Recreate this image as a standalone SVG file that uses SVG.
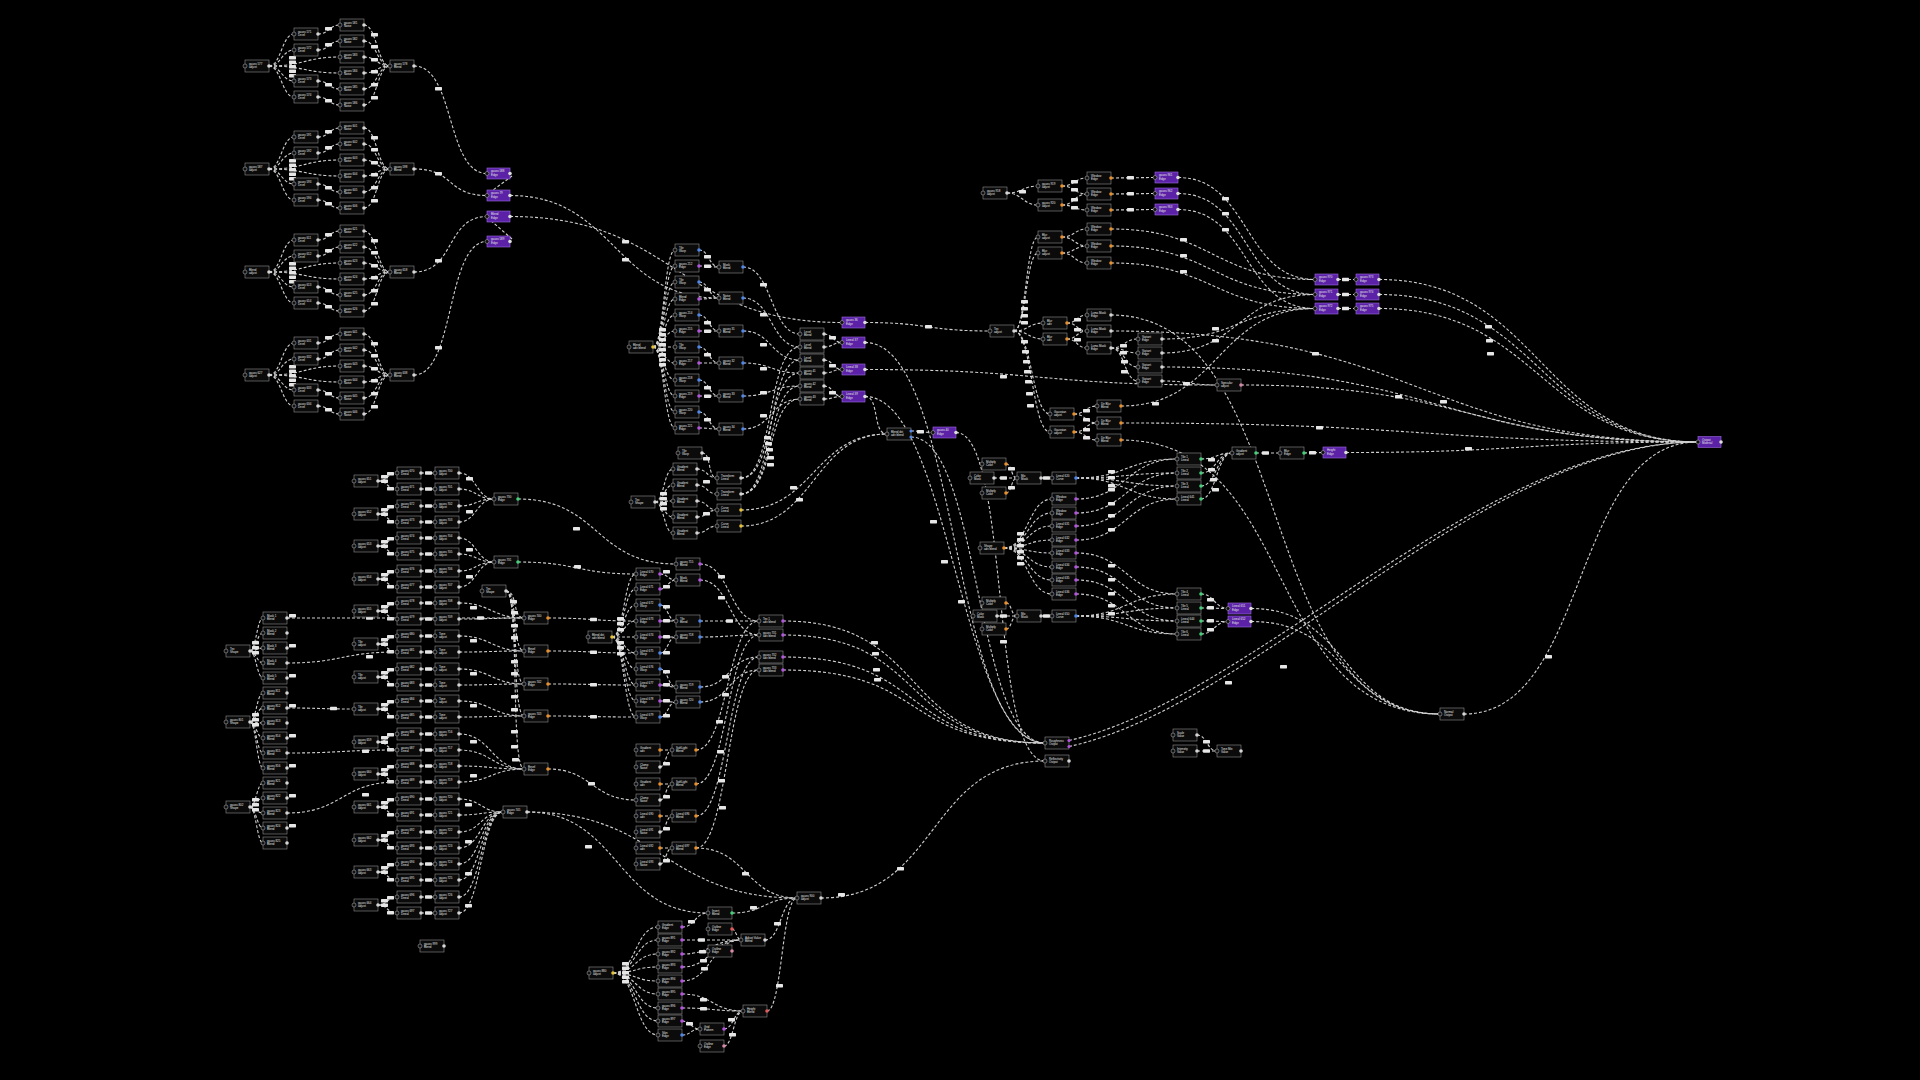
<svg xmlns="http://www.w3.org/2000/svg" width="1920" height="1080" viewBox="0 0 1920 1080">
<defs>
<style>
.c{fill:none;stroke:#cfcfcf;stroke-width:1.1;stroke-dasharray:3 2}
text{font-family:"Liberation Sans",Arial,sans-serif;font-size:2.9px;fill:#e6e6e6}
.r{fill:#0b0b0b;stroke:#8e8e8e;stroke-width:.6}
.rp{fill:#5b21a6;stroke:#9c6ce2;stroke-width:.6}
.pi{fill:#111;stroke:#bbb;stroke-width:.5;stroke-dasharray:none}
.pl{fill:#e6e6e6;stroke:none}
</style>
<g id="b"><rect class="r" width="24" height="12"/><circle class="pi" cx="0" cy="6" r="2"/></g>
<g id="nw"><use href="#b"/><circle cx="24" cy="6" r="1.8" fill="#d6d6d6"/></g>
<g id="nb"><use href="#b"/><circle cx="24" cy="6" r="1.8" fill="#4f86e8"/></g>
<g id="np"><use href="#b"/><circle cx="24" cy="6" r="1.8" fill="#b455e0"/></g>
<g id="no"><use href="#b"/><circle cx="24" cy="6" r="1.8" fill="#e8902c"/></g>
<g id="ng"><use href="#b"/><circle cx="24" cy="6" r="1.8" fill="#45d07a"/></g>
<g id="ny"><use href="#b"/><circle cx="24" cy="6" r="1.8" fill="#e6c234"/></g>
<g id="nr"><use href="#b"/><circle cx="24" cy="6" r="1.8" fill="#e05858"/></g>
<g id="nk"><use href="#b"/><circle cx="24" cy="6" r="1.8" fill="#d98aa8"/></g>
<g id="n2b"><use href="#b"/><circle cx="24" cy="3" r="1.6" fill="#4f86e8"/><circle cx="24" cy="9" r="1.6" fill="#4f86e8"/></g>
<g id="n2p"><use href="#b"/><circle cx="24" cy="3.5" r="1.6" fill="#b455e0"/><circle cx="24" cy="9.5" r="1.6" fill="#b455e0"/></g>
<g id="pp"><rect class="rp" width="23" height="11"/><circle class="pi" cx="0" cy="5.5" r="2"/><circle cx="23" cy="5.5" r="1.8" fill="#ddd"/></g>
<rect id="pl" class="pl" width="7" height="3.4" rx=".6"/>
<g id="ac">
<path d="M269 66C281 66 282 34 294 34"/><path d="M269 66C281 66 282 50 294 50"/><path d="M269 66C281 66 282 81 294 81"/><path d="M269 66C281 66 282 97 294 97"/>
<path d="M269 66C305 66 305 57 340 57"/><path d="M269 66C305 66 305 73 340 73"/>
<path d="M318 34C329 34 329 25 340 25"/><path d="M318 50C329 50 329 41 340 41"/><path d="M318 81C329 81 329 89 340 89"/><path d="M318 97C329 97 329 105 340 105"/>
<path d="M364 25C377 25 377 66 390 66"/><path d="M364 41C377 41 377 66 390 66"/><path d="M364 57C377 57 377 66 390 66"/><path d="M364 73C377 73 377 66 390 66"/><path d="M364 89C377 89 377 66 390 66"/><path d="M364 105C377 105 377 66 390 66"/>
<use href="#pl" x="289" y="56"/><use href="#pl" x="289" y="60.5"/><use href="#pl" x="289" y="65"/><use href="#pl" x="289" y="69.5"/><use href="#pl" x="289" y="74"/>
<use href="#pl" x="325" y="27"/><use href="#pl" x="325" y="43"/><use href="#pl" x="325" y="83"/><use href="#pl" x="325" y="99"/>
<use href="#pl" x="371" y="33"/><use href="#pl" x="371" y="45"/><use href="#pl" x="371" y="58"/><use href="#pl" x="371" y="70"/><use href="#pl" x="371" y="83"/><use href="#pl" x="371" y="96"/>
</g>
<g id="cr">
<path d="M378 481C388 481 387 473 397 473"/><path d="M378 481C388 481 387 489 397 489"/><path d="M421 473H435"/><path d="M421 489H435"/>
<use href="#pl" x="381" y="475"/><use href="#pl" x="381" y="479.5"/><use href="#pl" x="387" y="472"/><use href="#pl" x="387" y="487"/><use href="#pl" x="425" y="471.3"/><use href="#pl" x="425" y="487.3"/>
</g>
</defs>
<rect width="1920" height="1080" fill="#000"/>
<g id="connectors" class="c">
<use href="#ac"/><use href="#ac" y="103"/><use href="#ac" y="206"/><use href="#ac" y="309"/>
<path d="M414 66C455 66 446 173.5 487 173.5"/><path d="M414 169C455 169 446 195.5 487 195.5"/><path d="M414 272C455 272 446 216.5 487 216.5"/><path d="M414 375C455 375 446 241.5 487 241.5"/>
<path d="M512 176L489 193"/><path d="M512 239L489 219"/>
<use href="#pl" x="435" y="87"/><use href="#pl" x="435" y="172"/><use href="#pl" x="435" y="259"/><use href="#pl" x="435" y="346"/>
<path d="M510 195.5C615 195.5 614 298 719 298"/><path d="M510 216.5C676 216.5 676 322.5 842 322.5"/>
<use href="#pl" x="622" y="240"/><use href="#pl" x="622" y="258"/>
<path d="M653 347C664 347 664 250 675 250"/><path d="M653 347C664 347 664 266 675 266"/><path d="M653 347C664 347 664 282 675 282"/><path d="M653 347C664 347 664 299 675 299"/><path d="M653 347C664 347 664 315 675 315"/><path d="M653 347C664 347 664 331 675 331"/><path d="M653 347C664 347 664 347 675 347"/><path d="M653 347C664 347 664 363 675 363"/><path d="M653 347C664 347 664 380 675 380"/><path d="M653 347C664 347 664 396 675 396"/><path d="M653 347C664 347 664 412 675 412"/><path d="M653 347C664 347 664 428 675 428"/>
<use href="#pl" x="659" y="328"/><use href="#pl" x="659" y="333"/><use href="#pl" x="659" y="338"/><use href="#pl" x="659" y="343"/><use href="#pl" x="659" y="348"/><use href="#pl" x="659" y="353"/><use href="#pl" x="659" y="358"/><use href="#pl" x="659" y="363"/>
<path d="M699 250C709 250 709 267 719 267"/><path d="M699 266C709 266 709 267 719 267"/><path d="M699 282C709 282 709 298 719 298"/><path d="M699 299C709 299 709 298 719 298"/><path d="M699 315C709 315 709 331 719 331"/><path d="M699 331C709 331 709 331 719 331"/><path d="M699 347C709 347 709 363 719 363"/><path d="M699 363C709 363 709 363 719 363"/><path d="M699 380C709 380 709 396 719 396"/><path d="M699 396C709 396 709 396 719 396"/><path d="M699 412C709 412 709 429 719 429"/><path d="M699 428C709 428 709 429 719 429"/>
<use href="#pl" x="704" y="255"/><use href="#pl" x="704" y="264.5"/><use href="#pl" x="704" y="288"/><use href="#pl" x="704" y="321"/><use href="#pl" x="704" y="329.5"/><use href="#pl" x="704" y="353"/><use href="#pl" x="704" y="386"/><use href="#pl" x="704" y="394.5"/><use href="#pl" x="704" y="418"/>
<path d="M743 267C772 267 771 334 800 334"/><path d="M743 298C772 298 771 347 800 347"/><path d="M743 331C772 331 771 360 800 360"/><path d="M743 363C772 363 771 373 800 373"/><path d="M743 396C772 396 771 386 800 386"/><path d="M743 429C772 429 771 399 800 399"/>
<use href="#pl" x="760" y="283"/><use href="#pl" x="760" y="313"/><use href="#pl" x="760" y="343"/><use href="#pl" x="760" y="367"/><use href="#pl" x="760" y="391"/><use href="#pl" x="760" y="414"/>
<path d="M741 478C775 478 766 347 800 347"/><path d="M741 478C775 478 766 373 800 373"/><path d="M741 494C775 494 766 360 800 360"/><path d="M741 494C775 494 766 386 800 386"/><path d="M741 494C775 494 766 399 800 399"/>
<use href="#pl" x="764" y="436"/><use href="#pl" x="765" y="442"/><use href="#pl" x="766" y="448"/><use href="#pl" x="767" y="456"/><use href="#pl" x="767" y="463"/>
<path d="M824 334C833 334 833 342.5 842 342.5"/><path d="M824 347C833 347 833 342.5 842 342.5"/><path d="M824 360C833 360 833 369.5 842 369.5"/><path d="M824 373C833 373 833 369.5 842 369.5"/><path d="M824 386C833 386 833 396.5 842 396.5"/><path d="M824 399C833 399 833 396.5 842 396.5"/>
<use href="#pl" x="829" y="336"/><use href="#pl" x="829" y="364"/><use href="#pl" x="829" y="391"/>
<path d="M865 396.5C880 396.5 872 434 887 434"/><path d="M741 510C814 510 814 434 887 434"/><path d="M741 526C814 526 814 434 887 434"/><path d="M911 431C922 431 922 432.5 933 432.5"/>
<use href="#pl" x="790" y="486"/><use href="#pl" x="796" y="498"/><use href="#pl" x="917" y="430"/>
<path d="M655 502C664 502 664 469 673 469"/><path d="M655 502C664 502 664 485 673 485"/><path d="M655 502C664 502 664 501 673 501"/><path d="M655 502C664 502 664 517 673 517"/><path d="M655 502C664 502 664 533 673 533"/>
<use href="#pl" x="660" y="492"/><use href="#pl" x="660" y="497"/><use href="#pl" x="660" y="502"/><use href="#pl" x="660" y="507"/>
<path d="M697 469C707 469 707 478 717 478"/><path d="M697 485C707 485 707 494 717 494"/><path d="M697 501C707 501 707 510 717 510"/><path d="M697 517C707 517 707 510 717 510"/><path d="M697 533C707 533 707 526 717 526"/><path d="M702 453C712 453 707 478 717 478"/>
<use href="#pl" x="703" y="457"/><use href="#pl" x="703" y="480"/><use href="#pl" x="703" y="512"/>
<path d="M865 322.5C928 322.5 927 331 990 331"/><path d="M865 342.5C960 342.5 950 743 1045 743"/><path d="M865 369.5C1040 369.5 1040 385 1217 385"/><path d="M865 396.5C950 396.5 960 743 1045 743"/><path d="M911 437C980 437 975 743 1045 743"/><path d="M956 432.5C1010 432.5 990 761 1045 761"/>
<use href="#pl" x="925" y="325"/><use href="#pl" x="1000" y="375"/><use href="#pl" x="930" y="520"/><use href="#pl" x="941" y="560"/><use href="#pl" x="958" y="600"/><use href="#pl" x="1000" y="640"/>
<use href="#cr"/><use href="#cr" y="33"/><use href="#cr" y="65"/><use href="#cr" y="98"/><use href="#cr" y="130"/><use href="#cr" y="163"/><use href="#cr" y="196"/><use href="#cr" y="228"/><use href="#cr" y="261"/><use href="#cr" y="293"/><use href="#cr" y="326"/><use href="#cr" y="359"/><use href="#cr" y="391"/><use href="#cr" y="424"/>
<path d="M459 473C476 473 477 499 494 499"/><path d="M459 489C476 489 477 499 494 499"/><path d="M459 506C476 506 477 499 494 499"/><path d="M459 522C476 522 477 499 494 499"/>
<path d="M459 538C476 538 477 562 494 562"/><path d="M459 554C476 554 477 562 494 562"/><path d="M459 571C476 571 477 562 494 562"/><path d="M459 587C476 587 477 562 494 562"/>
<path d="M459 603C491 603 492 618 524 618"/><path d="M459 619C491 619 492 618 524 618"/><path d="M459 636C491 636 492 651 524 651"/><path d="M459 652C491 652 492 651 524 651"/><path d="M459 669C491 669 492 684 524 684"/><path d="M459 685C491 685 492 684 524 684"/><path d="M459 701C491 701 492 716 524 716"/><path d="M459 717C491 717 492 716 524 716"/>
<path d="M459 734C491 734 492 769 524 769"/><path d="M459 750C491 750 492 769 524 769"/><path d="M459 766C491 766 492 769 524 769"/><path d="M459 782C491 782 492 769 524 769"/>
<path d="M459 799C481 799 481 812 503 812"/><path d="M459 815C481 815 481 812 503 812"/><path d="M459 832C481 832 481 812 503 812"/><path d="M459 848C481 848 481 812 503 812"/><path d="M459 864C481 864 481 812 503 812"/><path d="M459 880C481 880 481 812 503 812"/><path d="M459 897C481 897 481 812 503 812"/><path d="M459 913C481 913 481 812 503 812"/>
<use href="#pl" x="466" y="477"/><use href="#pl" x="466" y="510"/><use href="#pl" x="466" y="548"/><use href="#pl" x="466" y="575"/><use href="#pl" x="470" y="606"/><use href="#pl" x="470" y="639"/><use href="#pl" x="470" y="672"/><use href="#pl" x="470" y="704"/><use href="#pl" x="470" y="740"/><use href="#pl" x="470" y="774"/><use href="#pl" x="465" y="803"/><use href="#pl" x="465" y="840"/><use href="#pl" x="465" y="872"/><use href="#pl" x="465" y="904"/>
<path d="M506 591C518 591 512 618 524 618"/><path d="M506 591C518 591 512 651 524 651"/><path d="M506 591C518 591 512 684 524 684"/><path d="M506 591C518 591 512 716 524 716"/><path d="M506 591C520 591 510 769 524 769"/>
<use href="#pl" x="510" y="600"/><use href="#pl" x="511" y="611"/><use href="#pl" x="511" y="624"/><use href="#pl" x="511" y="636"/><use href="#pl" x="511" y="660"/><use href="#pl" x="511" y="672"/><use href="#pl" x="511" y="695"/><use href="#pl" x="511" y="708"/><use href="#pl" x="511" y="730"/><use href="#pl" x="511" y="745"/><use href="#pl" x="512" y="758"/>
<path d="M250 651C256 651 257 618 263 618"/><path d="M250 651C256 651 257 633 263 633"/><path d="M250 651C256 651 257 648 263 648"/><path d="M250 651C256 651 257 663 263 663"/><path d="M250 651C256 651 257 678 263 678"/>
<path d="M250 722C256 722 257 693 263 693"/><path d="M250 722C256 722 257 708 263 708"/><path d="M250 722C256 722 257 723 263 723"/><path d="M250 722C256 722 257 738 263 738"/><path d="M250 722C256 722 257 753 263 753"/><path d="M250 722C256 722 257 768 263 768"/>
<path d="M250 807C256 807 257 783 263 783"/><path d="M250 807C256 807 257 798 263 798"/><path d="M250 807C256 807 257 813 263 813"/><path d="M250 807C256 807 257 828 263 828"/><path d="M250 807C256 807 257 843 263 843"/>
<use href="#pl" x="252" y="641"/><use href="#pl" x="252" y="646"/><use href="#pl" x="252" y="651"/><use href="#pl" x="252" y="713"/><use href="#pl" x="252" y="718"/><use href="#pl" x="252" y="723"/><use href="#pl" x="252" y="798"/><use href="#pl" x="252" y="803"/><use href="#pl" x="252" y="808"/>
<path d="M287 618H524"/><path d="M287 663C342 663 342 652 397 652"/><path d="M287 708C320 708 321 709 354 709"/><path d="M287 753C342 753 342 750 397 750"/><path d="M287 813C342 813 342 782 397 782"/>
<use href="#pl" x="366" y="616.3"/><use href="#pl" x="477" y="616.3"/><use href="#pl" x="366" y="655"/><use href="#pl" x="330" y="706.8"/><use href="#pl" x="362" y="749.5"/><use href="#pl" x="362" y="793"/>
<use href="#pl" x="289" y="614"/><use href="#pl" x="289" y="644"/><use href="#pl" x="289" y="674"/><use href="#pl" x="289" y="704"/><use href="#pl" x="289" y="734"/><use href="#pl" x="289" y="764"/><use href="#pl" x="289" y="794"/><use href="#pl" x="289" y="824"/>
<path d="M518 499C600 499 594 564 676 564"/><path d="M518 562C577 562 577 574 636 574"/><path d="M548 618C592 618 592 621 636 621"/><path d="M548 651C592 651 592 653 636 653"/><path d="M548 684C592 684 592 685 636 685"/><path d="M548 716C592 716 592 717 636 717"/><path d="M548 769C592 769 592 800 636 800"/>
<use href="#pl" x="573" y="527"/><use href="#pl" x="574" y="565"/><use href="#pl" x="590" y="617.8"/><use href="#pl" x="590" y="650.5"/><use href="#pl" x="590" y="683"/><use href="#pl" x="590" y="715"/><use href="#pl" x="588" y="782"/>
<path d="M612 637C624 637 624 574 636 574"/><path d="M612 637C624 637 624 589 636 589"/><path d="M612 637C624 637 624 605 636 605"/><path d="M612 637C624 637 624 621 636 621"/><path d="M612 637C624 637 624 637 636 637"/><path d="M612 637C624 637 624 653 636 653"/><path d="M612 637C624 637 624 669 636 669"/><path d="M612 637C624 637 624 685 636 685"/><path d="M612 637C624 637 624 701 636 701"/><path d="M612 637C624 637 624 717 636 717"/>
<use href="#pl" x="617" y="617"/><use href="#pl" x="617" y="622"/><use href="#pl" x="617" y="628"/><use href="#pl" x="617" y="641"/><use href="#pl" x="617" y="646"/><use href="#pl" x="617" y="652"/>
<path d="M660 574C668 574 668 580 676 580"/><path d="M660 589C668 589 668 580 676 580"/><path d="M660 605C668 605 668 621 676 621"/><path d="M660 621H676"/><path d="M660 637H676"/><path d="M660 653C668 653 668 637 676 637"/><path d="M660 669C668 669 668 687 676 687"/><path d="M660 685C668 685 668 687 676 687"/><path d="M660 701C668 701 668 702 676 702"/><path d="M660 717C668 717 668 702 676 702"/>
<use href="#pl" x="663" y="570"/><use href="#pl" x="663" y="585"/><use href="#pl" x="663" y="605"/><use href="#pl" x="663" y="619"/><use href="#pl" x="663" y="635"/><use href="#pl" x="663" y="651"/><use href="#pl" x="663" y="670"/><use href="#pl" x="663" y="683"/><use href="#pl" x="663" y="699"/><use href="#pl" x="663" y="714"/>
<path d="M700 564C730 564 729 621 759 621"/><path d="M700 580C730 580 729 635 759 635"/><path d="M700 621H759"/><path d="M700 637C730 637 729 635 759 635"/><path d="M700 687C730 687 729 657 759 657"/><path d="M700 702C730 702 729 670 759 670"/>
<path d="M696 750C728 750 727 621 759 621"/><path d="M696 784C728 784 727 635 759 635"/><path d="M696 816C728 816 727 657 759 657"/><path d="M696 848C728 848 727 670 759 670"/>
<use href="#pl" x="718" y="575"/><use href="#pl" x="718" y="596"/><use href="#pl" x="726" y="619.3"/><use href="#pl" x="722" y="675"/><use href="#pl" x="722" y="693"/><use href="#pl" x="716" y="720"/><use href="#pl" x="717" y="750"/><use href="#pl" x="718" y="779"/><use href="#pl" x="719" y="806"/>
<path d="M660 750H672"/><path d="M660 767C666 767 666 750 672 750"/><path d="M660 784H672"/><path d="M660 800C666 800 666 784 672 784"/><path d="M660 816H672"/><path d="M660 832C666 832 666 816 672 816"/><path d="M660 848H672"/><path d="M660 864C666 864 666 848 672 848"/>
<use href="#pl" x="663" y="762"/><use href="#pl" x="663" y="795"/><use href="#pl" x="663" y="827"/><use href="#pl" x="663" y="859"/>
<path d="M783 621C930 621 898 743 1045 743"/><path d="M783 635C930 635 898 743 1045 743"/><path d="M783 657C930 657 898 743 1045 743"/><path d="M783 670C930 670 898 743 1045 743"/>
<use href="#pl" x="871" y="641"/><use href="#pl" x="872" y="652"/><use href="#pl" x="873" y="668"/><use href="#pl" x="874" y="678"/>
<path d="M613 973C636 973 635 927 658 927"/><path d="M613 973C636 973 635 940 658 940"/><path d="M613 973C636 973 635 954 658 954"/><path d="M613 973C636 973 635 967 658 967"/><path d="M613 973C636 973 635 981 658 981"/><path d="M613 973C636 973 635 994 658 994"/><path d="M613 973C636 973 635 1008 658 1008"/><path d="M613 973C636 973 635 1021 658 1021"/><path d="M613 973C636 973 635 1035 658 1035"/>
<use href="#pl" x="622" y="962"/><use href="#pl" x="622" y="966.5"/><use href="#pl" x="622" y="971"/><use href="#pl" x="622" y="975.5"/><use href="#pl" x="622" y="980"/>
<path d="M682 927C695 927 695 913 708 913"/><path d="M682 940H741"/><path d="M682 954C711 954 712 940 741 940"/><path d="M682 967C711 967 712 940 741 940"/><path d="M682 981C711 981 712 940 741 940"/><path d="M682 994C712 994 713 1011 743 1011"/><path d="M682 1008C712 1008 713 1011 743 1011"/><path d="M682 1021C691 1021 691 1029 700 1029"/><path d="M682 1035C691 1035 691 1029 700 1029"/>
<path d="M724 1029C733 1029 734 1011 743 1011"/><path d="M724 1046C733 1046 734 1011 743 1011"/><path d="M732 929C736 929 737 940 741 940"/>
<use href="#pl" x="688" y="920"/><use href="#pl" x="698" y="938.3"/><use href="#pl" x="699" y="950"/><use href="#pl" x="700" y="959"/><use href="#pl" x="701" y="967"/><use href="#pl" x="700" y="998"/><use href="#pl" x="700" y="1007"/><use href="#pl" x="686" y="1022"/><use href="#pl" x="728" y="1018"/><use href="#pl" x="729" y="1033"/>
<path d="M732 913C765 913 764 898 797 898"/><path d="M765 940C781 940 781 898 797 898"/><path d="M767 1011C782 1011 782 898 797 898"/>
<use href="#pl" x="750" y="906"/><use href="#pl" x="774" y="922"/><use href="#pl" x="776" y="984"/>
<path d="M527 812C620 812 615 913 708 913"/><path d="M527 812C660 812 664 898 797 898"/><path d="M696 848C747 848 746 898 797 898"/><path d="M821 898C940 898 926 761 1045 761"/>
<use href="#pl" x="585" y="845"/><use href="#pl" x="640" y="846"/><use href="#pl" x="742" y="872"/><use href="#pl" x="897" y="867"/><use href="#pl" x="838" y="893"/>
<path d="M1007 193C1022 193 1023 186 1038 186"/><path d="M1007 193C1022 193 1023 205 1038 205"/>
<path d="M1062 186C1074 186 1075 178 1087 178"/><path d="M1062 186C1074 186 1075 194 1087 194"/><path d="M1062 205C1074 205 1075 194 1087 194"/><path d="M1062 205C1074 205 1075 210 1087 210"/>
<path d="M1111 178L1155 177.5"/><path d="M1111 194L1155 193.5"/><path d="M1111 210L1155 209.5"/>
<path d="M1178 177.5C1250 177.5 1243 279.5 1315 279.5"/><path d="M1178 193.5C1250 193.5 1243 294.5 1315 294.5"/><path d="M1178 209.5C1250 209.5 1243 308.5 1315 308.5"/>
<path d="M1014 331C1026 331 1026 237 1038 237"/><path d="M1014 331C1026 331 1026 253 1038 253"/>
<path d="M1062 237C1074 237 1075 229 1087 229"/><path d="M1062 237C1074 237 1075 246 1087 246"/><path d="M1062 253C1074 253 1075 246 1087 246"/><path d="M1062 253C1074 253 1075 263 1087 263"/>
<path d="M1111 229C1213 229 1213 279.5 1315 279.5"/><path d="M1111 246C1213 246 1213 294.5 1315 294.5"/><path d="M1111 263C1213 263 1213 308.5 1315 308.5"/>
<path d="M1338 279.5H1356"/><path d="M1338 294.5H1356"/><path d="M1338 308.5H1356"/>
<path d="M1014 331C1028 331 1029 323 1043 323"/><path d="M1014 331C1028 331 1029 339 1043 339"/><path d="M1014 331C1032 331 1032 414 1050 414"/><path d="M1014 331C1032 331 1032 432 1050 432"/>
<path d="M1067 323C1077 323 1077 315 1087 315"/><path d="M1067 323C1077 323 1077 331 1087 331"/><path d="M1067 339C1077 339 1077 331 1087 331"/><path d="M1067 339C1077 339 1077 348 1087 348"/>
<path d="M1111 348C1125 348 1124 339 1138 339"/><path d="M1111 348C1125 348 1124 353 1138 353"/><path d="M1111 348C1125 348 1124 367 1138 367"/><path d="M1111 348C1125 348 1124 381 1138 381"/>
<path d="M1162 339C1240 339 1237 308.5 1315 308.5"/><path d="M1162 353C1240 353 1237 294.5 1315 294.5"/><path d="M1162 381C1190 381 1189 385 1217 385"/>
<path d="M1074 414C1086 414 1085 406 1097 406"/><path d="M1074 414C1086 414 1085 423 1097 423"/><path d="M1074 432C1086 432 1085 423 1097 423"/><path d="M1074 432C1086 432 1085 440 1097 440"/>
<path d="M1121 406C1220 406 1216 308.5 1315 308.5"/>
<path d="M1256 453H1280"/><path d="M1304 453L1323 452.5"/>
<use href="#pl" x="1019" y="190"/><use href="#pl" x="1071" y="180"/><use href="#pl" x="1071" y="188"/><use href="#pl" x="1071" y="198"/><use href="#pl" x="1071" y="206"/><use href="#pl" x="1127" y="176"/><use href="#pl" x="1127" y="192"/><use href="#pl" x="1127" y="208"/>
<use href="#pl" x="1222" y="197"/><use href="#pl" x="1222" y="212"/><use href="#pl" x="1222" y="228"/><use href="#pl" x="1180" y="238"/><use href="#pl" x="1180" y="254"/><use href="#pl" x="1180" y="270"/><use href="#pl" x="1342" y="277.8"/><use href="#pl" x="1342" y="292.8"/><use href="#pl" x="1342" y="306.8"/>
<use href="#pl" x="1021" y="300"/><use href="#pl" x="1021" y="307"/><use href="#pl" x="1021" y="314"/><use href="#pl" x="1021" y="321"/><use href="#pl" x="1021" y="340"/><use href="#pl" x="1022" y="350"/><use href="#pl" x="1023" y="360"/><use href="#pl" x="1024" y="370"/><use href="#pl" x="1025" y="380"/><use href="#pl" x="1026" y="392"/><use href="#pl" x="1027" y="404"/>
<use href="#pl" x="1074" y="318"/><use href="#pl" x="1074" y="328"/><use href="#pl" x="1074" y="338"/><use href="#pl" x="1120" y="344"/><use href="#pl" x="1120" y="351"/><use href="#pl" x="1121" y="360"/><use href="#pl" x="1121" y="370"/>
<use href="#pl" x="1212" y="327"/><use href="#pl" x="1212" y="339"/><use href="#pl" x="1183" y="382"/><use href="#pl" x="1083" y="409"/><use href="#pl" x="1083" y="418"/><use href="#pl" x="1083" y="428"/><use href="#pl" x="1083" y="436"/><use href="#pl" x="1152" y="402"/><use href="#pl" x="1262" y="451.3"/><use href="#pl" x="1309" y="451"/>
<path d="M1379 279.5C1540 279.5 1540 442 1698 442"/><path d="M1379 294.5C1540 294.5 1540 442 1698 442"/><path d="M1379 308.5C1540 308.5 1540 442 1698 442"/>
<path d="M1111 331C1420 331 1420 442 1698 442"/><path d="M1162 367C1440 367 1440 442 1698 442"/><path d="M1241 385C1470 385 1470 442 1698 442"/><path d="M1121 423C1420 423 1420 442 1698 442"/><path d="M1346 452.5C1520 452.5 1520 442 1698 442"/>
<path d="M1464 714C1590 714 1570 442 1698 442"/><path d="M1069 740.5C1250 700 1480 442 1698 442"/><path d="M1069 746.5C1255 706 1485 442 1698 442"/>
<use href="#pl" x="1485" y="325"/><use href="#pl" x="1486" y="339"/><use href="#pl" x="1487" y="352"/><use href="#pl" x="1312" y="352"/><use href="#pl" x="1395" y="395"/><use href="#pl" x="1440" y="400"/><use href="#pl" x="1316" y="426"/><use href="#pl" x="1465" y="447"/><use href="#pl" x="1545" y="655"/><use href="#pl" x="1280" y="665"/><use href="#pl" x="1225" y="681"/>
<path d="M1006 464C1012 464 1011 478 1017 478"/><path d="M994 478H1017"/><path d="M1006 493C1012 493 1011 478 1017 478"/><path d="M1041 478H1052"/>
<path d="M1076 478C1126 478 1127 459 1177 459"/><path d="M1076 478C1126 478 1127 473 1177 473"/><path d="M1076 478C1126 478 1127 486 1177 486"/><path d="M1076 478C1126 478 1127 499 1177 499"/>
<path d="M1004 548C1028 548 1028 499 1052 499"/><path d="M1004 548C1028 548 1028 513 1052 513"/><path d="M1004 548C1028 548 1028 526 1052 526"/><path d="M1004 548C1028 548 1028 540 1052 540"/><path d="M1004 548C1028 548 1028 553 1052 553"/><path d="M1004 548C1028 548 1028 567 1052 567"/><path d="M1004 548C1028 548 1028 580 1052 580"/><path d="M1004 548C1028 548 1028 594 1052 594"/>
<path d="M1076 499C1126 499 1127 459 1177 459"/><path d="M1076 513C1126 513 1127 473 1177 473"/><path d="M1076 526C1126 526 1127 486 1177 486"/><path d="M1076 540C1126 540 1127 499 1177 499"/><path d="M1076 553C1126 553 1127 594 1177 594"/><path d="M1076 567C1126 567 1127 608 1177 608"/><path d="M1076 580C1126 580 1127 621 1177 621"/><path d="M1076 594C1126 594 1127 634 1177 634"/>
<path d="M1006 603C1012 603 1011 616 1017 616"/><path d="M997 616H1017"/><path d="M1006 629C1012 629 1011 616 1017 616"/><path d="M1041 616H1052"/>
<path d="M1076 616C1126 616 1127 594 1177 594"/><path d="M1076 616C1126 616 1127 608 1177 608"/><path d="M1076 616C1126 616 1127 621 1177 621"/><path d="M1076 616C1126 616 1127 634 1177 634"/>
<path d="M1201 459C1216 459 1217 453 1232 453"/><path d="M1201 473C1216 473 1217 453 1232 453"/><path d="M1201 486C1216 486 1217 453 1232 453"/><path d="M1201 499C1216 499 1217 453 1232 453"/>
<path d="M1201 594C1214 594 1215 608.5 1228 608.5"/><path d="M1201 608C1214 608 1215 608.5 1228 608.5"/><path d="M1201 621C1214 621 1215 621.5 1228 621.5"/><path d="M1201 634C1214 634 1215 621.5 1228 621.5"/>
<path d="M1251 608.5C1350 608.5 1340 714 1440 714"/><path d="M1251 621.5C1350 621.5 1340 714 1440 714"/><path d="M1111 315C1300 315 1250 714 1440 714"/><path d="M1121 440C1300 440 1260 714 1440 714"/>
<path d="M1197 735C1207 735 1207 751 1217 751"/><path d="M1197 751H1217"/>
<use href="#pl" x="1008" y="467"/><use href="#pl" x="1000" y="476.3"/><use href="#pl" x="1008" y="486"/><use href="#pl" x="1043" y="476.3"/><use href="#pl" x="1108" y="470"/><use href="#pl" x="1108" y="476"/><use href="#pl" x="1108" y="484"/>
<use href="#pl" x="1017" y="532"/><use href="#pl" x="1017" y="538"/><use href="#pl" x="1017" y="544"/><use href="#pl" x="1017" y="550"/><use href="#pl" x="1017" y="556"/><use href="#pl" x="1017" y="562"/>
<use href="#pl" x="1108" y="488"/><use href="#pl" x="1108" y="502"/><use href="#pl" x="1108" y="514"/><use href="#pl" x="1108" y="528"/><use href="#pl" x="1108" y="564"/><use href="#pl" x="1108" y="578"/><use href="#pl" x="1108" y="592"/><use href="#pl" x="1108" y="604"/><use href="#pl" x="1108" y="612"/>
<use href="#pl" x="1000" y="614.3"/><use href="#pl" x="1043" y="614.3"/><use href="#pl" x="1208" y="458"/><use href="#pl" x="1208" y="468"/><use href="#pl" x="1210" y="478"/><use href="#pl" x="1212" y="488"/><use href="#pl" x="1207" y="598"/><use href="#pl" x="1207" y="606"/><use href="#pl" x="1207" y="619"/><use href="#pl" x="1207" y="628"/><use href="#pl" x="1203" y="740"/><use href="#pl" x="1203" y="749.3"/>
</g>
<g id="nodes">
<g id="a0s" transform="translate(245,60)"><use href="#nw"/><text x="4" y="4.6">gauss 577<tspan x="4" dy="3.6">adjust</tspan></text></g>
<g id="a0c1" transform="translate(294,28)"><use href="#nw"/><text x="4" y="4.6">gauss 571<tspan x="4" dy="3.6">Level</tspan></text></g>
<g id="a0c2" transform="translate(294,44)"><use href="#nw"/><text x="4" y="4.6">gauss 572<tspan x="4" dy="3.6">Level</tspan></text></g>
<g id="a0c3" transform="translate(294,75)"><use href="#nw"/><text x="4" y="4.6">gauss 573<tspan x="4" dy="3.6">Level</tspan></text></g>
<g id="a0c4" transform="translate(294,91)"><use href="#nw"/><text x="4" y="4.6">gauss 574<tspan x="4" dy="3.6">Level</tspan></text></g>
<g id="a0n1" transform="translate(340,19)"><use href="#nw"/><text x="4" y="4.6">gauss 581<tspan x="4" dy="3.6">Noise</tspan></text></g>
<g id="a0n2" transform="translate(340,35)"><use href="#nw"/><text x="4" y="4.6">gauss 582<tspan x="4" dy="3.6">Noise</tspan></text></g>
<g id="a0n3" transform="translate(340,51)"><use href="#nw"/><text x="4" y="4.6">gauss 583<tspan x="4" dy="3.6">Noise</tspan></text></g>
<g id="a0n4" transform="translate(340,67)"><use href="#nw"/><text x="4" y="4.6">gauss 584<tspan x="4" dy="3.6">Noise</tspan></text></g>
<g id="a0n5" transform="translate(340,83)"><use href="#nw"/><text x="4" y="4.6">gauss 585<tspan x="4" dy="3.6">Noise</tspan></text></g>
<g id="a0n6" transform="translate(340,99)"><use href="#nw"/><text x="4" y="4.6">gauss 586<tspan x="4" dy="3.6">Noise</tspan></text></g>
<g id="a0m" transform="translate(390,60)"><use href="#nw"/><text x="4" y="4.6">gauss 578<tspan x="4" dy="3.6">Blend</tspan></text></g>
<g id="a1s" transform="translate(245,163)"><use href="#nw"/><text x="4" y="4.6">gauss 587<tspan x="4" dy="3.6">adjust</tspan></text></g>
<g id="a1c1" transform="translate(294,131)"><use href="#nw"/><text x="4" y="4.6">gauss 591<tspan x="4" dy="3.6">Level</tspan></text></g>
<g id="a1c2" transform="translate(294,147)"><use href="#nw"/><text x="4" y="4.6">gauss 592<tspan x="4" dy="3.6">Level</tspan></text></g>
<g id="a1c3" transform="translate(294,178)"><use href="#nw"/><text x="4" y="4.6">gauss 593<tspan x="4" dy="3.6">Level</tspan></text></g>
<g id="a1c4" transform="translate(294,194)"><use href="#nw"/><text x="4" y="4.6">gauss 594<tspan x="4" dy="3.6">Level</tspan></text></g>
<g id="a1n1" transform="translate(340,122)"><use href="#nw"/><text x="4" y="4.6">gauss 601<tspan x="4" dy="3.6">Noise</tspan></text></g>
<g id="a1n2" transform="translate(340,138)"><use href="#nw"/><text x="4" y="4.6">gauss 602<tspan x="4" dy="3.6">Noise</tspan></text></g>
<g id="a1n3" transform="translate(340,154)"><use href="#nw"/><text x="4" y="4.6">gauss 603<tspan x="4" dy="3.6">Noise</tspan></text></g>
<g id="a1n4" transform="translate(340,170)"><use href="#nw"/><text x="4" y="4.6">gauss 604<tspan x="4" dy="3.6">Noise</tspan></text></g>
<g id="a1n5" transform="translate(340,186)"><use href="#nw"/><text x="4" y="4.6">gauss 605<tspan x="4" dy="3.6">Noise</tspan></text></g>
<g id="a1n6" transform="translate(340,202)"><use href="#nw"/><text x="4" y="4.6">gauss 606<tspan x="4" dy="3.6">Noise</tspan></text></g>
<g id="a1m" transform="translate(390,163)"><use href="#nw"/><text x="4" y="4.6">gauss 598<tspan x="4" dy="3.6">Blend</tspan></text></g>
<g id="a2s" transform="translate(245,266)"><use href="#nw"/><text x="4" y="4.6">Blend<tspan x="4" dy="3.6">adjust</tspan></text></g>
<g id="a2c1" transform="translate(294,234)"><use href="#nw"/><text x="4" y="4.6">gauss 611<tspan x="4" dy="3.6">Level</tspan></text></g>
<g id="a2c2" transform="translate(294,250)"><use href="#nw"/><text x="4" y="4.6">gauss 612<tspan x="4" dy="3.6">Level</tspan></text></g>
<g id="a2c3" transform="translate(294,281)"><use href="#nw"/><text x="4" y="4.6">gauss 613<tspan x="4" dy="3.6">Level</tspan></text></g>
<g id="a2c4" transform="translate(294,297)"><use href="#nw"/><text x="4" y="4.6">gauss 614<tspan x="4" dy="3.6">Level</tspan></text></g>
<g id="a2n1" transform="translate(340,225)"><use href="#nw"/><text x="4" y="4.6">gauss 621<tspan x="4" dy="3.6">Noise</tspan></text></g>
<g id="a2n2" transform="translate(340,241)"><use href="#nw"/><text x="4" y="4.6">gauss 622<tspan x="4" dy="3.6">Noise</tspan></text></g>
<g id="a2n3" transform="translate(340,257)"><use href="#nw"/><text x="4" y="4.6">gauss 623<tspan x="4" dy="3.6">Noise</tspan></text></g>
<g id="a2n4" transform="translate(340,273)"><use href="#nw"/><text x="4" y="4.6">gauss 624<tspan x="4" dy="3.6">Noise</tspan></text></g>
<g id="a2n5" transform="translate(340,289)"><use href="#nw"/><text x="4" y="4.6">gauss 625<tspan x="4" dy="3.6">Noise</tspan></text></g>
<g id="a2n6" transform="translate(340,305)"><use href="#nw"/><text x="4" y="4.6">gauss 626<tspan x="4" dy="3.6">Noise</tspan></text></g>
<g id="a2m" transform="translate(390,266)"><use href="#nw"/><text x="4" y="4.6">gauss 618<tspan x="4" dy="3.6">Blend</tspan></text></g>
<g id="a3s" transform="translate(245,369)"><use href="#nw"/><text x="4" y="4.6">gauss 627<tspan x="4" dy="3.6">adjust</tspan></text></g>
<g id="a3c1" transform="translate(294,337)"><use href="#nw"/><text x="4" y="4.6">gauss 631<tspan x="4" dy="3.6">Level</tspan></text></g>
<g id="a3c2" transform="translate(294,353)"><use href="#nw"/><text x="4" y="4.6">gauss 632<tspan x="4" dy="3.6">Level</tspan></text></g>
<g id="a3c3" transform="translate(294,384)"><use href="#nw"/><text x="4" y="4.6">gauss 633<tspan x="4" dy="3.6">Level</tspan></text></g>
<g id="a3c4" transform="translate(294,400)"><use href="#nw"/><text x="4" y="4.6">gauss 634<tspan x="4" dy="3.6">Level</tspan></text></g>
<g id="a3n1" transform="translate(340,328)"><use href="#nw"/><text x="4" y="4.6">gauss 641<tspan x="4" dy="3.6">Noise</tspan></text></g>
<g id="a3n2" transform="translate(340,344)"><use href="#nw"/><text x="4" y="4.6">gauss 642<tspan x="4" dy="3.6">Noise</tspan></text></g>
<g id="a3n3" transform="translate(340,360)"><use href="#nw"/><text x="4" y="4.6">gauss 643<tspan x="4" dy="3.6">Noise</tspan></text></g>
<g id="a3n4" transform="translate(340,376)"><use href="#nw"/><text x="4" y="4.6">gauss 644<tspan x="4" dy="3.6">Noise</tspan></text></g>
<g id="a3n5" transform="translate(340,392)"><use href="#nw"/><text x="4" y="4.6">gauss 645<tspan x="4" dy="3.6">Noise</tspan></text></g>
<g id="a3n6" transform="translate(340,408)"><use href="#nw"/><text x="4" y="4.6">gauss 646<tspan x="4" dy="3.6">Noise</tspan></text></g>
<g id="a3m" transform="translate(390,369)"><use href="#nw"/><text x="4" y="4.6">gauss 638<tspan x="4" dy="3.6">Blend</tspan></text></g>
<g id="ap0" transform="translate(487,168)"><use href="#pp"/><text x="4" y="4.3">gauss 588<tspan x="4" dy="3.6">Edge</tspan></text></g>
<g id="ap1" transform="translate(487,190)"><use href="#pp"/><text x="4" y="4.3">gauss 79<tspan x="4" dy="3.6">Edge</tspan></text></g>
<g id="ap2" transform="translate(487,211)"><use href="#pp"/><text x="4" y="4.3">Blend<tspan x="4" dy="3.6">Edge</tspan></text></g>
<g id="ap3" transform="translate(487,236)"><use href="#pp"/><text x="4" y="4.3">gauss 589<tspan x="4" dy="3.6">Edge</tspan></text></g>
<g id="bs" transform="translate(629,341)"><use href="#ny"/><text x="4" y="4.6">Blend<tspan x="4" dy="3.6">adv blend</tspan></text></g>
<g id="b1" transform="translate(675,244)"><use href="#nb"/><text x="4" y="4.6">Tile<tspan x="4" dy="3.6">Warp</tspan></text></g>
<g id="b2" transform="translate(675,260)"><use href="#np"/><text x="4" y="4.6">gauss 212<tspan x="4" dy="3.6">Edge</tspan></text></g>
<g id="b3" transform="translate(675,276)"><use href="#nb"/><text x="4" y="4.6">Tile<tspan x="4" dy="3.6">Warp</tspan></text></g>
<g id="b4" transform="translate(675,293)"><use href="#np"/><text x="4" y="4.6">Blend<tspan x="4" dy="3.6">Edge</tspan></text></g>
<g id="b5" transform="translate(675,309)"><use href="#nb"/><text x="4" y="4.6">gauss 214<tspan x="4" dy="3.6">Warp</tspan></text></g>
<g id="b6" transform="translate(675,325)"><use href="#np"/><text x="4" y="4.6">gauss 215<tspan x="4" dy="3.6">Edge</tspan></text></g>
<g id="b7" transform="translate(675,341)"><use href="#nb"/><text x="4" y="4.6">Tile<tspan x="4" dy="3.6">Warp</tspan></text></g>
<g id="b8" transform="translate(675,357)"><use href="#np"/><text x="4" y="4.6">gauss 217<tspan x="4" dy="3.6">Edge</tspan></text></g>
<g id="b9" transform="translate(675,374)"><use href="#nb"/><text x="4" y="4.6">gauss 218<tspan x="4" dy="3.6">Warp</tspan></text></g>
<g id="b10" transform="translate(675,390)"><use href="#np"/><text x="4" y="4.6">gauss 219<tspan x="4" dy="3.6">Edge</tspan></text></g>
<g id="b11" transform="translate(675,406)"><use href="#nb"/><text x="4" y="4.6">gauss 220<tspan x="4" dy="3.6">Warp</tspan></text></g>
<g id="b12" transform="translate(675,422)"><use href="#np"/><text x="4" y="4.6">gauss 221<tspan x="4" dy="3.6">Edge</tspan></text></g>
<g id="b13" transform="translate(719,261)"><use href="#nb"/><text x="4" y="4.6">Mask<tspan x="4" dy="3.6">Blend</tspan></text></g>
<g id="b14" transform="translate(719,292)"><use href="#nb"/><text x="4" y="4.6">Noise<tspan x="4" dy="3.6">Blend</tspan></text></g>
<g id="b15" transform="translate(719,325)"><use href="#nb"/><text x="4" y="4.6">gauss 31<tspan x="4" dy="3.6">Blend</tspan></text></g>
<g id="b16" transform="translate(719,357)"><use href="#nb"/><text x="4" y="4.6">gauss 32<tspan x="4" dy="3.6">Blend</tspan></text></g>
<g id="b17" transform="translate(719,390)"><use href="#nb"/><text x="4" y="4.6">gauss 33<tspan x="4" dy="3.6">Blend</tspan></text></g>
<g id="b18" transform="translate(719,423)"><use href="#nb"/><text x="4" y="4.6">gauss 34<tspan x="4" dy="3.6">Blend</tspan></text></g>
<g id="b19" transform="translate(800,328)"><use href="#nw"/><text x="4" y="4.6">Level<tspan x="4" dy="3.6">Blend</tspan></text></g>
<g id="b20" transform="translate(800,341)"><use href="#nw"/><text x="4" y="4.6">Level<tspan x="4" dy="3.6">Blend</tspan></text></g>
<g id="b21" transform="translate(800,354)"><use href="#nw"/><text x="4" y="4.6">Level<tspan x="4" dy="3.6">Blend</tspan></text></g>
<g id="b22" transform="translate(800,367)"><use href="#nw"/><text x="4" y="4.6">gauss 41<tspan x="4" dy="3.6">Blend</tspan></text></g>
<g id="b23" transform="translate(800,380)"><use href="#nw"/><text x="4" y="4.6">gauss 42<tspan x="4" dy="3.6">Blend</tspan></text></g>
<g id="b24" transform="translate(800,393)"><use href="#nw"/><text x="4" y="4.6">gauss 43<tspan x="4" dy="3.6">Blend</tspan></text></g>
<g id="bp0" transform="translate(842,317)"><use href="#pp"/><text x="4" y="4.3">gauss 36<tspan x="4" dy="3.6">Edge</tspan></text></g>
<g id="bp1" transform="translate(842,337)"><use href="#pp"/><text x="4" y="4.3">Lineal 37<tspan x="4" dy="3.6">Edge</tspan></text></g>
<g id="bp2" transform="translate(842,364)"><use href="#pp"/><text x="4" y="4.3">Lineal 38<tspan x="4" dy="3.6">Edge</tspan></text></g>
<g id="bp3" transform="translate(842,391)"><use href="#pp"/><text x="4" y="4.3">Lineal 39<tspan x="4" dy="3.6">Edge</tspan></text></g>
<g id="bd" transform="translate(887,428)"><use href="#n2b"/><text x="4" y="4.6">Blend dst<tspan x="4" dy="3.6">adv blend</tspan></text></g>
<g id="bp4" transform="translate(933,427)"><use href="#pp"/><text x="4" y="4.3">gauss 40<tspan x="4" dy="3.6">Edge</tspan></text></g>
<g id="bl0" transform="translate(678,447)"><use href="#nw"/><text x="4" y="4.6">Tile<tspan x="4" dy="3.6">Warp</tspan></text></g>
<g id="bls" transform="translate(631,496)"><use href="#nw"/><text x="4" y="4.6">Tex<tspan x="4" dy="3.6">Shape</tspan></text></g>
<g id="bl1" transform="translate(673,463)"><use href="#nw"/><text x="4" y="4.6">Gradient<tspan x="4" dy="3.6">Blend</tspan></text></g>
<g id="bl2" transform="translate(673,479)"><use href="#nw"/><text x="4" y="4.6">Gradient<tspan x="4" dy="3.6">Blend</tspan></text></g>
<g id="bl3" transform="translate(673,495)"><use href="#nw"/><text x="4" y="4.6">Gradient<tspan x="4" dy="3.6">Blend</tspan></text></g>
<g id="bl4" transform="translate(673,511)"><use href="#nw"/><text x="4" y="4.6">Gradient<tspan x="4" dy="3.6">Blend</tspan></text></g>
<g id="bl5" transform="translate(673,527)"><use href="#nw"/><text x="4" y="4.6">Gradient<tspan x="4" dy="3.6">Blend</tspan></text></g>
<g id="bl6" transform="translate(717,472)"><use href="#nw"/><text x="4" y="4.6">Transform<tspan x="4" dy="3.6">Lineal</tspan></text></g>
<g id="bl7" transform="translate(717,488)"><use href="#nw"/><text x="4" y="4.6">Transform<tspan x="4" dy="3.6">Lineal</tspan></text></g>
<g id="bl8" transform="translate(717,504)"><use href="#ny"/><text x="4" y="4.6">Curve<tspan x="4" dy="3.6">Lineal</tspan></text></g>
<g id="bl9" transform="translate(717,520)"><use href="#ny"/><text x="4" y="4.6">Curve<tspan x="4" dy="3.6">Lineal</tspan></text></g>
<g id="cs0" transform="translate(354,475)"><use href="#nw"/><text x="4" y="4.6">gauss 651<tspan x="4" dy="3.6">adjust</tspan></text></g>
<g id="cs1" transform="translate(354,508)"><use href="#nw"/><text x="4" y="4.6">gauss 652<tspan x="4" dy="3.6">adjust</tspan></text></g>
<g id="cs2" transform="translate(354,540)"><use href="#nw"/><text x="4" y="4.6">gauss 653<tspan x="4" dy="3.6">adjust</tspan></text></g>
<g id="cs3" transform="translate(354,573)"><use href="#nw"/><text x="4" y="4.6">gauss 654<tspan x="4" dy="3.6">adjust</tspan></text></g>
<g id="cs4" transform="translate(354,605)"><use href="#nw"/><text x="4" y="4.6">gauss 655<tspan x="4" dy="3.6">adjust</tspan></text></g>
<g id="cs5" transform="translate(354,638)"><use href="#nw"/><text x="4" y="4.6">Tile<tspan x="4" dy="3.6">adjust</tspan></text></g>
<g id="cs6" transform="translate(354,671)"><use href="#nw"/><text x="4" y="4.6">Tile<tspan x="4" dy="3.6">adjust</tspan></text></g>
<g id="cs7" transform="translate(354,703)"><use href="#nw"/><text x="4" y="4.6">Tile<tspan x="4" dy="3.6">adjust</tspan></text></g>
<g id="cs8" transform="translate(354,736)"><use href="#nw"/><text x="4" y="4.6">gauss 659<tspan x="4" dy="3.6">adjust</tspan></text></g>
<g id="cs9" transform="translate(354,768)"><use href="#nw"/><text x="4" y="4.6">gauss 660<tspan x="4" dy="3.6">adjust</tspan></text></g>
<g id="cs10" transform="translate(354,801)"><use href="#nw"/><text x="4" y="4.6">gauss 661<tspan x="4" dy="3.6">adjust</tspan></text></g>
<g id="cs11" transform="translate(354,834)"><use href="#nw"/><text x="4" y="4.6">gauss 662<tspan x="4" dy="3.6">adjust</tspan></text></g>
<g id="cs12" transform="translate(354,866)"><use href="#nw"/><text x="4" y="4.6">gauss 663<tspan x="4" dy="3.6">adjust</tspan></text></g>
<g id="cs13" transform="translate(354,899)"><use href="#nw"/><text x="4" y="4.6">gauss 664<tspan x="4" dy="3.6">adjust</tspan></text></g>
<g id="c0a" transform="translate(397,467)"><use href="#nw"/><text x="4" y="4.6">gauss 670<tspan x="4" dy="3.6">Lineal</tspan></text></g>
<g id="c0b" transform="translate(397,483)"><use href="#nw"/><text x="4" y="4.6">gauss 671<tspan x="4" dy="3.6">Lineal</tspan></text></g>
<g id="c1a" transform="translate(397,500)"><use href="#nw"/><text x="4" y="4.6">gauss 672<tspan x="4" dy="3.6">Lineal</tspan></text></g>
<g id="c1b" transform="translate(397,516)"><use href="#nw"/><text x="4" y="4.6">gauss 673<tspan x="4" dy="3.6">Lineal</tspan></text></g>
<g id="c2a" transform="translate(397,532)"><use href="#nw"/><text x="4" y="4.6">gauss 674<tspan x="4" dy="3.6">Lineal</tspan></text></g>
<g id="c2b" transform="translate(397,548)"><use href="#nw"/><text x="4" y="4.6">gauss 675<tspan x="4" dy="3.6">Lineal</tspan></text></g>
<g id="c3a" transform="translate(397,565)"><use href="#nw"/><text x="4" y="4.6">gauss 676<tspan x="4" dy="3.6">Lineal</tspan></text></g>
<g id="c3b" transform="translate(397,581)"><use href="#nw"/><text x="4" y="4.6">gauss 677<tspan x="4" dy="3.6">Lineal</tspan></text></g>
<g id="c4a" transform="translate(397,597)"><use href="#nw"/><text x="4" y="4.6">gauss 678<tspan x="4" dy="3.6">Lineal</tspan></text></g>
<g id="c4b" transform="translate(397,613)"><use href="#nw"/><text x="4" y="4.6">gauss 679<tspan x="4" dy="3.6">Lineal</tspan></text></g>
<g id="c5a" transform="translate(397,630)"><use href="#nw"/><text x="4" y="4.6">gauss 680<tspan x="4" dy="3.6">Lineal</tspan></text></g>
<g id="c5b" transform="translate(397,646)"><use href="#nw"/><text x="4" y="4.6">gauss 681<tspan x="4" dy="3.6">Lineal</tspan></text></g>
<g id="c6a" transform="translate(397,663)"><use href="#nw"/><text x="4" y="4.6">gauss 682<tspan x="4" dy="3.6">Lineal</tspan></text></g>
<g id="c6b" transform="translate(397,679)"><use href="#nw"/><text x="4" y="4.6">gauss 683<tspan x="4" dy="3.6">Lineal</tspan></text></g>
<g id="c7a" transform="translate(397,695)"><use href="#nw"/><text x="4" y="4.6">gauss 684<tspan x="4" dy="3.6">Lineal</tspan></text></g>
<g id="c7b" transform="translate(397,711)"><use href="#nw"/><text x="4" y="4.6">gauss 685<tspan x="4" dy="3.6">Lineal</tspan></text></g>
<g id="c8a" transform="translate(397,728)"><use href="#nw"/><text x="4" y="4.6">gauss 686<tspan x="4" dy="3.6">Lineal</tspan></text></g>
<g id="c8b" transform="translate(397,744)"><use href="#nw"/><text x="4" y="4.6">gauss 687<tspan x="4" dy="3.6">Lineal</tspan></text></g>
<g id="c9a" transform="translate(397,760)"><use href="#nw"/><text x="4" y="4.6">gauss 688<tspan x="4" dy="3.6">Lineal</tspan></text></g>
<g id="c9b" transform="translate(397,776)"><use href="#nw"/><text x="4" y="4.6">gauss 689<tspan x="4" dy="3.6">Lineal</tspan></text></g>
<g id="c10a" transform="translate(397,793)"><use href="#nw"/><text x="4" y="4.6">gauss 690<tspan x="4" dy="3.6">Lineal</tspan></text></g>
<g id="c10b" transform="translate(397,809)"><use href="#nw"/><text x="4" y="4.6">gauss 691<tspan x="4" dy="3.6">Lineal</tspan></text></g>
<g id="c11a" transform="translate(397,826)"><use href="#nw"/><text x="4" y="4.6">gauss 692<tspan x="4" dy="3.6">Lineal</tspan></text></g>
<g id="c11b" transform="translate(397,842)"><use href="#nw"/><text x="4" y="4.6">gauss 693<tspan x="4" dy="3.6">Lineal</tspan></text></g>
<g id="c12a" transform="translate(397,858)"><use href="#nw"/><text x="4" y="4.6">gauss 694<tspan x="4" dy="3.6">Lineal</tspan></text></g>
<g id="c12b" transform="translate(397,874)"><use href="#nw"/><text x="4" y="4.6">gauss 695<tspan x="4" dy="3.6">Lineal</tspan></text></g>
<g id="c13a" transform="translate(397,891)"><use href="#nw"/><text x="4" y="4.6">gauss 696<tspan x="4" dy="3.6">Lineal</tspan></text></g>
<g id="c13b" transform="translate(397,907)"><use href="#nw"/><text x="4" y="4.6">gauss 697<tspan x="4" dy="3.6">Lineal</tspan></text></g>
<g id="c0c" transform="translate(435,467)"><use href="#nw"/><text x="4" y="4.6">gauss 700<tspan x="4" dy="3.6">adjust</tspan></text></g>
<g id="c0d" transform="translate(435,483)"><use href="#nw"/><text x="4" y="4.6">gauss 701<tspan x="4" dy="3.6">adjust</tspan></text></g>
<g id="c1c" transform="translate(435,500)"><use href="#nw"/><text x="4" y="4.6">gauss 702<tspan x="4" dy="3.6">adjust</tspan></text></g>
<g id="c1d" transform="translate(435,516)"><use href="#nw"/><text x="4" y="4.6">gauss 703<tspan x="4" dy="3.6">adjust</tspan></text></g>
<g id="c2c" transform="translate(435,532)"><use href="#nw"/><text x="4" y="4.6">gauss 704<tspan x="4" dy="3.6">adjust</tspan></text></g>
<g id="c2d" transform="translate(435,548)"><use href="#nw"/><text x="4" y="4.6">gauss 705<tspan x="4" dy="3.6">adjust</tspan></text></g>
<g id="c3c" transform="translate(435,565)"><use href="#nw"/><text x="4" y="4.6">gauss 706<tspan x="4" dy="3.6">adjust</tspan></text></g>
<g id="c3d" transform="translate(435,581)"><use href="#nw"/><text x="4" y="4.6">gauss 707<tspan x="4" dy="3.6">adjust</tspan></text></g>
<g id="c4c" transform="translate(435,597)"><use href="#nw"/><text x="4" y="4.6">gauss 708<tspan x="4" dy="3.6">adjust</tspan></text></g>
<g id="c4d" transform="translate(435,613)"><use href="#nw"/><text x="4" y="4.6">gauss 709<tspan x="4" dy="3.6">adjust</tspan></text></g>
<g id="c5c" transform="translate(435,630)"><use href="#nw"/><text x="4" y="4.6">Tone<tspan x="4" dy="3.6">adjust</tspan></text></g>
<g id="c5d" transform="translate(435,646)"><use href="#nw"/><text x="4" y="4.6">Tone<tspan x="4" dy="3.6">adjust</tspan></text></g>
<g id="c6c" transform="translate(435,663)"><use href="#nw"/><text x="4" y="4.6">Tone<tspan x="4" dy="3.6">adjust</tspan></text></g>
<g id="c6d" transform="translate(435,679)"><use href="#nw"/><text x="4" y="4.6">Tone<tspan x="4" dy="3.6">adjust</tspan></text></g>
<g id="c7c" transform="translate(435,695)"><use href="#nw"/><text x="4" y="4.6">Tone<tspan x="4" dy="3.6">adjust</tspan></text></g>
<g id="c7d" transform="translate(435,711)"><use href="#nw"/><text x="4" y="4.6">Tone<tspan x="4" dy="3.6">adjust</tspan></text></g>
<g id="c8c" transform="translate(435,728)"><use href="#nw"/><text x="4" y="4.6">gauss 716<tspan x="4" dy="3.6">adjust</tspan></text></g>
<g id="c8d" transform="translate(435,744)"><use href="#nw"/><text x="4" y="4.6">gauss 717<tspan x="4" dy="3.6">adjust</tspan></text></g>
<g id="c9c" transform="translate(435,760)"><use href="#nw"/><text x="4" y="4.6">gauss 718<tspan x="4" dy="3.6">adjust</tspan></text></g>
<g id="c9d" transform="translate(435,776)"><use href="#nw"/><text x="4" y="4.6">gauss 719<tspan x="4" dy="3.6">adjust</tspan></text></g>
<g id="c10c" transform="translate(435,793)"><use href="#nw"/><text x="4" y="4.6">gauss 720<tspan x="4" dy="3.6">adjust</tspan></text></g>
<g id="c10d" transform="translate(435,809)"><use href="#nw"/><text x="4" y="4.6">gauss 721<tspan x="4" dy="3.6">adjust</tspan></text></g>
<g id="c11c" transform="translate(435,826)"><use href="#nw"/><text x="4" y="4.6">gauss 722<tspan x="4" dy="3.6">adjust</tspan></text></g>
<g id="c11d" transform="translate(435,842)"><use href="#nw"/><text x="4" y="4.6">gauss 723<tspan x="4" dy="3.6">adjust</tspan></text></g>
<g id="c12c" transform="translate(435,858)"><use href="#nw"/><text x="4" y="4.6">gauss 724<tspan x="4" dy="3.6">adjust</tspan></text></g>
<g id="c12d" transform="translate(435,874)"><use href="#nw"/><text x="4" y="4.6">gauss 725<tspan x="4" dy="3.6">adjust</tspan></text></g>
<g id="c13c" transform="translate(435,891)"><use href="#nw"/><text x="4" y="4.6">gauss 726<tspan x="4" dy="3.6">adjust</tspan></text></g>
<g id="c13d" transform="translate(435,907)"><use href="#nw"/><text x="4" y="4.6">gauss 727<tspan x="4" dy="3.6">adjust</tspan></text></g>
<g id="cm0" transform="translate(494,493)"><use href="#ng"/><text x="4" y="4.6">gauss 730<tspan x="4" dy="3.6">Edge</tspan></text></g>
<g id="cm1" transform="translate(494,556)"><use href="#ng"/><text x="4" y="4.6">gauss 731<tspan x="4" dy="3.6">Edge</tspan></text></g>
<g id="ct" transform="translate(482,585)"><use href="#nw"/><text x="4" y="4.6">Tex<tspan x="4" dy="3.6">Shape</tspan></text></g>
<g id="co0" transform="translate(524,612)"><use href="#no"/><text x="4" y="4.6">gauss 740<tspan x="4" dy="3.6">Edge</tspan></text></g>
<g id="co1" transform="translate(524,645)"><use href="#no"/><text x="4" y="4.6">Bevel<tspan x="4" dy="3.6">Edge</tspan></text></g>
<g id="co2" transform="translate(524,678)"><use href="#no"/><text x="4" y="4.6">gauss 742<tspan x="4" dy="3.6">Edge</tspan></text></g>
<g id="co3" transform="translate(524,710)"><use href="#no"/><text x="4" y="4.6">gauss 743<tspan x="4" dy="3.6">Edge</tspan></text></g>
<g id="co4" transform="translate(524,763)"><use href="#no"/><text x="4" y="4.6">Bevel<tspan x="4" dy="3.6">Edge</tspan></text></g>
<g id="cx" transform="translate(503,806)"><use href="#nw"/><text x="4" y="4.6">gauss 745<tspan x="4" dy="3.6">Edge</tspan></text></g>
<g id="ds0" transform="translate(226,645)"><use href="#nw"/><text x="4" y="4.6">Tex<tspan x="4" dy="3.6">Shape</tspan></text></g>
<g id="ds1" transform="translate(226,716)"><use href="#nw"/><text x="4" y="4.6">gauss 801<tspan x="4" dy="3.6">Shape</tspan></text></g>
<g id="ds2" transform="translate(226,801)"><use href="#nw"/><text x="4" y="4.6">gauss 802<tspan x="4" dy="3.6">Shape</tspan></text></g>
<g id="d00" transform="translate(263,612)"><use href="#nw"/><text x="4" y="4.6">Mask 1<tspan x="4" dy="3.6">Blend</tspan></text></g>
<g id="d01" transform="translate(263,627)"><use href="#nw"/><text x="4" y="4.6">Mask 2<tspan x="4" dy="3.6">Blend</tspan></text></g>
<g id="d02" transform="translate(263,642)"><use href="#nw"/><text x="4" y="4.6">Mask 3<tspan x="4" dy="3.6">Blend</tspan></text></g>
<g id="d03" transform="translate(263,657)"><use href="#nw"/><text x="4" y="4.6">Mask 4<tspan x="4" dy="3.6">Blend</tspan></text></g>
<g id="d04" transform="translate(263,672)"><use href="#nw"/><text x="4" y="4.6">Mask 5<tspan x="4" dy="3.6">Blend</tspan></text></g>
<g id="d10" transform="translate(263,687)"><use href="#nw"/><text x="4" y="4.6">gauss 811<tspan x="4" dy="3.6">Blend</tspan></text></g>
<g id="d11" transform="translate(263,702)"><use href="#nw"/><text x="4" y="4.6">gauss 812<tspan x="4" dy="3.6">Blend</tspan></text></g>
<g id="d12" transform="translate(263,717)"><use href="#nw"/><text x="4" y="4.6">gauss 813<tspan x="4" dy="3.6">Blend</tspan></text></g>
<g id="d13" transform="translate(263,732)"><use href="#nw"/><text x="4" y="4.6">gauss 814<tspan x="4" dy="3.6">Blend</tspan></text></g>
<g id="d14" transform="translate(263,747)"><use href="#nw"/><text x="4" y="4.6">gauss 815<tspan x="4" dy="3.6">Blend</tspan></text></g>
<g id="d15" transform="translate(263,762)"><use href="#nw"/><text x="4" y="4.6">gauss 816<tspan x="4" dy="3.6">Blend</tspan></text></g>
<g id="d20" transform="translate(263,777)"><use href="#nw"/><text x="4" y="4.6">gauss 821<tspan x="4" dy="3.6">Blend</tspan></text></g>
<g id="d21" transform="translate(263,792)"><use href="#nw"/><text x="4" y="4.6">gauss 822<tspan x="4" dy="3.6">Blend</tspan></text></g>
<g id="d22" transform="translate(263,807)"><use href="#nw"/><text x="4" y="4.6">gauss 823<tspan x="4" dy="3.6">Blend</tspan></text></g>
<g id="d23" transform="translate(263,822)"><use href="#nw"/><text x="4" y="4.6">gauss 824<tspan x="4" dy="3.6">Blend</tspan></text></g>
<g id="d24" transform="translate(263,837)"><use href="#nw"/><text x="4" y="4.6">gauss 825<tspan x="4" dy="3.6">Blend</tspan></text></g>
<g id="es" transform="translate(588,631)"><use href="#ny"/><text x="4" y="4.6">Blend dst<tspan x="4" dy="3.6">adv blend</tspan></text></g>
<g id="e1" transform="translate(636,568)"><use href="#np"/><text x="4" y="4.6">Lineal 670<tspan x="4" dy="3.6">Edge</tspan></text></g>
<g id="e2" transform="translate(636,583)"><use href="#np"/><text x="4" y="4.6">Lineal 671<tspan x="4" dy="3.6">Edge</tspan></text></g>
<g id="e3" transform="translate(636,599)"><use href="#nb"/><text x="4" y="4.6">Lineal 672<tspan x="4" dy="3.6">Warp</tspan></text></g>
<g id="e4" transform="translate(636,615)"><use href="#np"/><text x="4" y="4.6">Lineal 673<tspan x="4" dy="3.6">Edge</tspan></text></g>
<g id="e5" transform="translate(636,631)"><use href="#np"/><text x="4" y="4.6">Lineal 674<tspan x="4" dy="3.6">Edge</tspan></text></g>
<g id="e6" transform="translate(636,647)"><use href="#nb"/><text x="4" y="4.6">Lineal 675<tspan x="4" dy="3.6">Warp</tspan></text></g>
<g id="e7" transform="translate(636,663)"><use href="#nb"/><text x="4" y="4.6">Lineal 676<tspan x="4" dy="3.6">Warp</tspan></text></g>
<g id="e8" transform="translate(636,679)"><use href="#np"/><text x="4" y="4.6">Lineal 677<tspan x="4" dy="3.6">Edge</tspan></text></g>
<g id="e9" transform="translate(636,695)"><use href="#np"/><text x="4" y="4.6">Lineal 678<tspan x="4" dy="3.6">Edge</tspan></text></g>
<g id="e10" transform="translate(636,711)"><use href="#nb"/><text x="4" y="4.6">Lineal 679<tspan x="4" dy="3.6">Warp</tspan></text></g>
<g id="e11" transform="translate(676,558)"><use href="#np"/><text x="4" y="4.6">gauss 715<tspan x="4" dy="3.6">Blend</tspan></text></g>
<g id="e12" transform="translate(676,574)"><use href="#np"/><text x="4" y="4.6">Mask<tspan x="4" dy="3.6">Blend</tspan></text></g>
<g id="e13" transform="translate(676,615)"><use href="#nb"/><text x="4" y="4.6">Tile<tspan x="4" dy="3.6">Blend</tspan></text></g>
<g id="e14" transform="translate(676,631)"><use href="#nb"/><text x="4" y="4.6">gauss 718<tspan x="4" dy="3.6">Blend</tspan></text></g>
<g id="e15" transform="translate(676,681)"><use href="#nb"/><text x="4" y="4.6">gauss 719<tspan x="4" dy="3.6">Blend</tspan></text></g>
<g id="e16" transform="translate(676,696)"><use href="#nb"/><text x="4" y="4.6">gauss 720<tspan x="4" dy="3.6">Blend</tspan></text></g>
<g id="e17" transform="translate(759,615)"><use href="#np"/><text x="4" y="4.6">Tex 1<tspan x="4" dy="3.6">adv blend</tspan></text></g>
<g id="e18" transform="translate(759,629)"><use href="#np"/><text x="4" y="4.6">gauss 731<tspan x="4" dy="3.6">adv blend</tspan></text></g>
<g id="e19" transform="translate(759,651)"><use href="#np"/><text x="4" y="4.6">gauss 732<tspan x="4" dy="3.6">adv blend</tspan></text></g>
<g id="e20" transform="translate(759,664)"><use href="#np"/><text x="4" y="4.6">gauss 733<tspan x="4" dy="3.6">adv blend</tspan></text></g>
<g id="el1" transform="translate(636,744)"><use href="#no"/><text x="4" y="4.6">Gradient<tspan x="4" dy="3.6">adv</tspan></text></g>
<g id="el2" transform="translate(636,761)"><use href="#nw"/><text x="4" y="4.6">Clamp<tspan x="4" dy="3.6">Noise</tspan></text></g>
<g id="el3" transform="translate(636,778)"><use href="#no"/><text x="4" y="4.6">Gradient<tspan x="4" dy="3.6">adv</tspan></text></g>
<g id="el4" transform="translate(636,794)"><use href="#nw"/><text x="4" y="4.6">Clamp<tspan x="4" dy="3.6">Noise</tspan></text></g>
<g id="el5" transform="translate(636,810)"><use href="#no"/><text x="4" y="4.6">Lineal 690<tspan x="4" dy="3.6">adv</tspan></text></g>
<g id="el6" transform="translate(636,826)"><use href="#nw"/><text x="4" y="4.6">Lineal 691<tspan x="4" dy="3.6">Noise</tspan></text></g>
<g id="el7" transform="translate(636,842)"><use href="#no"/><text x="4" y="4.6">Lineal 692<tspan x="4" dy="3.6">adv</tspan></text></g>
<g id="el8" transform="translate(636,858)"><use href="#nw"/><text x="4" y="4.6">Lineal 693<tspan x="4" dy="3.6">Noise</tspan></text></g>
<g id="el9" transform="translate(672,744)"><use href="#no"/><text x="4" y="4.6">SoftLight<tspan x="4" dy="3.6">Blend</tspan></text></g>
<g id="el10" transform="translate(672,778)"><use href="#no"/><text x="4" y="4.6">SoftLight<tspan x="4" dy="3.6">Blend</tspan></text></g>
<g id="el11" transform="translate(672,810)"><use href="#no"/><text x="4" y="4.6">Lineal 696<tspan x="4" dy="3.6">Blend</tspan></text></g>
<g id="el12" transform="translate(672,842)"><use href="#no"/><text x="4" y="4.6">Lineal 697<tspan x="4" dy="3.6">Blend</tspan></text></g>
<g id="fs" transform="translate(589,967)"><use href="#ny"/><text x="4" y="4.6">gauss 880<tspan x="4" dy="3.6">adjust</tspan></text></g>
<g id="f1" transform="translate(658,921)"><use href="#np"/><text x="4" y="4.6">Gradient<tspan x="4" dy="3.6">Edge</tspan></text></g>
<g id="f2" transform="translate(658,934)"><use href="#np"/><text x="4" y="4.6">gauss 891<tspan x="4" dy="3.6">Edge</tspan></text></g>
<g id="f3" transform="translate(658,948)"><use href="#np"/><text x="4" y="4.6">gauss 892<tspan x="4" dy="3.6">Edge</tspan></text></g>
<g id="f4" transform="translate(658,961)"><use href="#np"/><text x="4" y="4.6">gauss 893<tspan x="4" dy="3.6">Edge</tspan></text></g>
<g id="f5" transform="translate(658,975)"><use href="#np"/><text x="4" y="4.6">gauss 894<tspan x="4" dy="3.6">Edge</tspan></text></g>
<g id="f6" transform="translate(658,988)"><use href="#np"/><text x="4" y="4.6">gauss 895<tspan x="4" dy="3.6">Edge</tspan></text></g>
<g id="f7" transform="translate(658,1002)"><use href="#np"/><text x="4" y="4.6">gauss 896<tspan x="4" dy="3.6">Edge</tspan></text></g>
<g id="f8" transform="translate(658,1015)"><use href="#np"/><text x="4" y="4.6">gauss 897<tspan x="4" dy="3.6">Edge</tspan></text></g>
<g id="f9" transform="translate(658,1029)"><use href="#nb"/><text x="4" y="4.6">Skin<tspan x="4" dy="3.6">Edge</tspan></text></g>
<g id="fr0" transform="translate(708,907)"><use href="#ng"/><text x="4" y="4.6">Invert<tspan x="4" dy="3.6">Blend</tspan></text></g>
<g id="fr1" transform="translate(708,923)"><use href="#nr"/><text x="4" y="4.6">Outline<tspan x="4" dy="3.6">Edge</tspan></text></g>
<g id="fr2" transform="translate(708,945)"><use href="#nk"/><text x="4" y="4.6">Outline<tspan x="4" dy="3.6">Edge</tspan></text></g>
<g id="fr3" transform="translate(741,934)"><use href="#nw"/><text x="4" y="4.6">Adjust Value<tspan x="4" dy="3.6">Blend</tspan></text></g>
<g id="fr4" transform="translate(743,1005)"><use href="#nr"/><text x="4" y="4.6">Height<tspan x="4" dy="3.6">Blend</tspan></text></g>
<g id="fr5" transform="translate(700,1023)"><use href="#np"/><text x="4" y="4.6">Grid<tspan x="4" dy="3.6">Pattern</tspan></text></g>
<g id="fr6" transform="translate(700,1040)"><use href="#nk"/><text x="4" y="4.6">Outline<tspan x="4" dy="3.6">Edge</tspan></text></g>
<g id="fh" transform="translate(797,892)"><use href="#nw"/><text x="4" y="4.6">gauss 900<tspan x="4" dy="3.6">adjust</tspan></text></g>
<g id="x0" transform="translate(1045,737)"><use href="#n2p"/><text x="4" y="4.6">Roughness<tspan x="4" dy="3.6">Output</tspan></text></g>
<g id="x1" transform="translate(1045,755)"><use href="#nw"/><text x="4" y="4.6">Reflectivity<tspan x="4" dy="3.6">Output</tspan></text></g>
<g id="g1s" transform="translate(983,187)"><use href="#nw"/><text x="4" y="4.6">gauss 918<tspan x="4" dy="3.6">adjust</tspan></text></g>
<g id="g1a0" transform="translate(1038,180)"><use href="#no"/><text x="4" y="4.6">gauss 919<tspan x="4" dy="3.6">adjust</tspan></text></g>
<g id="g1a1" transform="translate(1038,199)"><use href="#no"/><text x="4" y="4.6">gauss 920<tspan x="4" dy="3.6">adjust</tspan></text></g>
<g id="g1b0" transform="translate(1087,172)"><use href="#no"/><text x="4" y="4.6">Window<tspan x="4" dy="3.6">Edge</tspan></text></g>
<g id="g1b1" transform="translate(1087,188)"><use href="#no"/><text x="4" y="4.6">Window<tspan x="4" dy="3.6">Edge</tspan></text></g>
<g id="g1b2" transform="translate(1087,204)"><use href="#no"/><text x="4" y="4.6">Window<tspan x="4" dy="3.6">Edge</tspan></text></g>
<g id="g1p0" transform="translate(1155,172)"><use href="#pp"/><text x="4" y="4.3">gauss 961<tspan x="4" dy="3.6">Edge</tspan></text></g>
<g id="g1p1" transform="translate(1155,188)"><use href="#pp"/><text x="4" y="4.3">gauss 962<tspan x="4" dy="3.6">Edge</tspan></text></g>
<g id="g1p2" transform="translate(1155,204)"><use href="#pp"/><text x="4" y="4.3">gauss 963<tspan x="4" dy="3.6">Edge</tspan></text></g>
<g id="g2a0" transform="translate(1038,231)"><use href="#no"/><text x="4" y="4.6">Blur<tspan x="4" dy="3.6">adjust</tspan></text></g>
<g id="g2a1" transform="translate(1038,247)"><use href="#no"/><text x="4" y="4.6">Blur<tspan x="4" dy="3.6">adjust</tspan></text></g>
<g id="g2b0" transform="translate(1087,223)"><use href="#no"/><text x="4" y="4.6">Window<tspan x="4" dy="3.6">Edge</tspan></text></g>
<g id="g2b1" transform="translate(1087,240)"><use href="#no"/><text x="4" y="4.6">Window<tspan x="4" dy="3.6">Edge</tspan></text></g>
<g id="g2b2" transform="translate(1087,257)"><use href="#no"/><text x="4" y="4.6">Window<tspan x="4" dy="3.6">Edge</tspan></text></g>
<g id="rp10" transform="translate(1315,274)"><use href="#pp"/><text x="4" y="4.3">gauss 970<tspan x="4" dy="3.6">Edge</tspan></text></g>
<g id="rp11" transform="translate(1315,289)"><use href="#pp"/><text x="4" y="4.3">gauss 971<tspan x="4" dy="3.6">Edge</tspan></text></g>
<g id="rp12" transform="translate(1315,303)"><use href="#pp"/><text x="4" y="4.3">gauss 972<tspan x="4" dy="3.6">Edge</tspan></text></g>
<g id="rp20" transform="translate(1356,274)"><use href="#pp"/><text x="4" y="4.3">gauss 973<tspan x="4" dy="3.6">Edge</tspan></text></g>
<g id="rp21" transform="translate(1356,289)"><use href="#pp"/><text x="4" y="4.3">gauss 974<tspan x="4" dy="3.6">Edge</tspan></text></g>
<g id="rp22" transform="translate(1356,303)"><use href="#pp"/><text x="4" y="4.3">gauss 975<tspan x="4" dy="3.6">Edge</tspan></text></g>
<g id="g3s" transform="translate(990,325)"><use href="#nw"/><text x="4" y="4.6">Tex<tspan x="4" dy="3.6">adjust</tspan></text></g>
<g id="g3a0" transform="translate(1043,317)"><use href="#no"/><text x="4" y="4.6">Blur<tspan x="4" dy="3.6">adv</tspan></text></g>
<g id="g3a1" transform="translate(1043,333)"><use href="#no"/><text x="4" y="4.6">Blur<tspan x="4" dy="3.6">adv</tspan></text></g>
<g id="g3b0" transform="translate(1087,309)"><use href="#nw"/><text x="4" y="4.6">Luma Mask<tspan x="4" dy="3.6">Edge</tspan></text></g>
<g id="g3b1" transform="translate(1087,325)"><use href="#nw"/><text x="4" y="4.6">Luma Mask<tspan x="4" dy="3.6">Edge</tspan></text></g>
<g id="g3b2" transform="translate(1087,342)"><use href="#nw"/><text x="4" y="4.6">Luma Mask<tspan x="4" dy="3.6">Edge</tspan></text></g>
<g id="g3c0" transform="translate(1138,333)"><use href="#nw"/><text x="4" y="4.6">Variant<tspan x="4" dy="3.6">Edge</tspan></text></g>
<g id="g3c1" transform="translate(1138,347)"><use href="#nw"/><text x="4" y="4.6">Variant<tspan x="4" dy="3.6">Edge</tspan></text></g>
<g id="g3c2" transform="translate(1138,361)"><use href="#nw"/><text x="4" y="4.6">Variant<tspan x="4" dy="3.6">Edge</tspan></text></g>
<g id="g3c3" transform="translate(1138,375)"><use href="#nw"/><text x="4" y="4.6">Variant<tspan x="4" dy="3.6">Edge</tspan></text></g>
<g id="g3n" transform="translate(1217,379)"><use href="#nk"/><text x="4" y="4.6">Specular<tspan x="4" dy="3.6">adjust</tspan></text></g>
<g id="g4a0" transform="translate(1050,408)"><use href="#no"/><text x="4" y="4.6">Gaussian<tspan x="4" dy="3.6">adjust</tspan></text></g>
<g id="g4a1" transform="translate(1050,426)"><use href="#no"/><text x="4" y="4.6">Gaussian<tspan x="4" dy="3.6">adjust</tspan></text></g>
<g id="g4b0" transform="translate(1097,400)"><use href="#no"/><text x="4" y="4.6">Dir Blur<tspan x="4" dy="3.6">Blend</tspan></text></g>
<g id="g4b1" transform="translate(1097,417)"><use href="#no"/><text x="4" y="4.6">Dir Blur<tspan x="4" dy="3.6">Blend</tspan></text></g>
<g id="g4b2" transform="translate(1097,434)"><use href="#no"/><text x="4" y="4.6">Dir Blur<tspan x="4" dy="3.6">Blend</tspan></text></g>
<g id="g5a" transform="translate(1232,447)"><use href="#ng"/><text x="4" y="4.6">Gradient<tspan x="4" dy="3.6">adjust</tspan></text></g>
<g id="g5b" transform="translate(1280,447)"><use href="#ng"/><text x="4" y="4.6">Blur<tspan x="4" dy="3.6">Edge</tspan></text></g>
<g id="g5p" transform="translate(1323,447)"><use href="#pp"/><text x="4" y="4.3">Height<tspan x="4" dy="3.6">Edge</tspan></text></g>
<g id="h1a" transform="translate(982,458)"><use href="#no"/><text x="4" y="4.6">Multiply<tspan x="4" dy="3.6">Color</tspan></text></g>
<g id="h1b" transform="translate(970,472)"><use href="#nw"/><text x="4" y="4.6">Color<tspan x="4" dy="3.6">Mask</tspan></text></g>
<g id="h1c" transform="translate(982,487)"><use href="#no"/><text x="4" y="4.6">Multiply<tspan x="4" dy="3.6">Color</tspan></text></g>
<g id="h1d" transform="translate(1017,472)"><use href="#nw"/><text x="4" y="4.6">Mix<tspan x="4" dy="3.6">Mask</tspan></text></g>
<g id="h1e" transform="translate(1052,472)"><use href="#nb"/><text x="4" y="4.6">Lineal 620<tspan x="4" dy="3.6">Curve</tspan></text></g>
<g id="hs" transform="translate(980,542)"><use href="#no"/><text x="4" y="4.6">Shape<tspan x="4" dy="3.6">adv blend</tspan></text></g>
<g id="hm0" transform="translate(1052,493)"><use href="#np"/><text x="4" y="4.6">Window<tspan x="4" dy="3.6">Edge</tspan></text></g>
<g id="hm1" transform="translate(1052,507)"><use href="#np"/><text x="4" y="4.6">Window<tspan x="4" dy="3.6">Edge</tspan></text></g>
<g id="hm2" transform="translate(1052,520)"><use href="#np"/><text x="4" y="4.6">Lineal 631<tspan x="4" dy="3.6">Edge</tspan></text></g>
<g id="hm3" transform="translate(1052,534)"><use href="#np"/><text x="4" y="4.6">Lineal 632<tspan x="4" dy="3.6">Edge</tspan></text></g>
<g id="hm4" transform="translate(1052,547)"><use href="#np"/><text x="4" y="4.6">Lineal 633<tspan x="4" dy="3.6">Edge</tspan></text></g>
<g id="hm5" transform="translate(1052,561)"><use href="#np"/><text x="4" y="4.6">Lineal 634<tspan x="4" dy="3.6">Edge</tspan></text></g>
<g id="hm6" transform="translate(1052,574)"><use href="#np"/><text x="4" y="4.6">Lineal 635<tspan x="4" dy="3.6">Edge</tspan></text></g>
<g id="hm7" transform="translate(1052,588)"><use href="#np"/><text x="4" y="4.6">Lineal 636<tspan x="4" dy="3.6">Edge</tspan></text></g>
<g id="hr0" transform="translate(1177,453)"><use href="#ng"/><text x="4" y="4.6">Tile 1<tspan x="4" dy="3.6">Lineal</tspan></text></g>
<g id="hr1" transform="translate(1177,467)"><use href="#ng"/><text x="4" y="4.6">Tile 2<tspan x="4" dy="3.6">Lineal</tspan></text></g>
<g id="hr2" transform="translate(1177,480)"><use href="#ng"/><text x="4" y="4.6">Tile 3<tspan x="4" dy="3.6">Lineal</tspan></text></g>
<g id="hr3" transform="translate(1177,493)"><use href="#ng"/><text x="4" y="4.6">Lineal 641<tspan x="4" dy="3.6">Lineal</tspan></text></g>
<g id="hr4" transform="translate(1177,588)"><use href="#ng"/><text x="4" y="4.6">Tile 4<tspan x="4" dy="3.6">Lineal</tspan></text></g>
<g id="hr5" transform="translate(1177,602)"><use href="#ng"/><text x="4" y="4.6">Tile 5<tspan x="4" dy="3.6">Lineal</tspan></text></g>
<g id="hr6" transform="translate(1177,615)"><use href="#ng"/><text x="4" y="4.6">Lineal 644<tspan x="4" dy="3.6">Lineal</tspan></text></g>
<g id="hr7" transform="translate(1177,628)"><use href="#ng"/><text x="4" y="4.6">Tile 6<tspan x="4" dy="3.6">Lineal</tspan></text></g>
<g id="h3a" transform="translate(982,597)"><use href="#no"/><text x="4" y="4.6">Multiply<tspan x="4" dy="3.6">Color</tspan></text></g>
<g id="h3b" transform="translate(973,610)"><use href="#nw"/><text x="4" y="4.6">Color<tspan x="4" dy="3.6">Mask</tspan></text></g>
<g id="h3c" transform="translate(982,623)"><use href="#no"/><text x="4" y="4.6">Multiply<tspan x="4" dy="3.6">Color</tspan></text></g>
<g id="h3d" transform="translate(1017,610)"><use href="#nw"/><text x="4" y="4.6">Mix<tspan x="4" dy="3.6">Mask</tspan></text></g>
<g id="h3e" transform="translate(1052,610)"><use href="#nb"/><text x="4" y="4.6">Lineal 650<tspan x="4" dy="3.6">Curve</tspan></text></g>
<g id="hp0" transform="translate(1228,603)"><use href="#pp"/><text x="4" y="4.3">Lineal 651<tspan x="4" dy="3.6">Edge</tspan></text></g>
<g id="hp1" transform="translate(1228,616)"><use href="#pp"/><text x="4" y="4.3">Lineal 652<tspan x="4" dy="3.6">Edge</tspan></text></g>
<g id="h4" transform="translate(1440,708)"><use href="#nw"/><text x="4" y="4.6">Normal<tspan x="4" dy="3.6">Output</tspan></text></g>
<g id="h5a" transform="translate(1173,729)"><use href="#nw"/><text x="4" y="4.6">Scale<tspan x="4" dy="3.6">Value</tspan></text></g>
<g id="h5b" transform="translate(1173,745)"><use href="#nw"/><text x="4" y="4.6">Intensity<tspan x="4" dy="3.6">Value</tspan></text></g>
<g id="h5c" transform="translate(1217,745)"><use href="#nw"/><text x="4" y="4.6">Tone Mix<tspan x="4" dy="3.6">Value</tspan></text></g>
<g id="sa" transform="translate(420,940)"><use href="#nw"/><text x="4" y="4.6">gauss 999<tspan x="4" dy="3.6">Blend</tspan></text></g>
<g id="out" transform="translate(1698,436.5)"><use href="#pp"/><text x="4" y="4.3">Output<tspan x="4" dy="3.6">Material</tspan></text></g>
</g>
</svg>
